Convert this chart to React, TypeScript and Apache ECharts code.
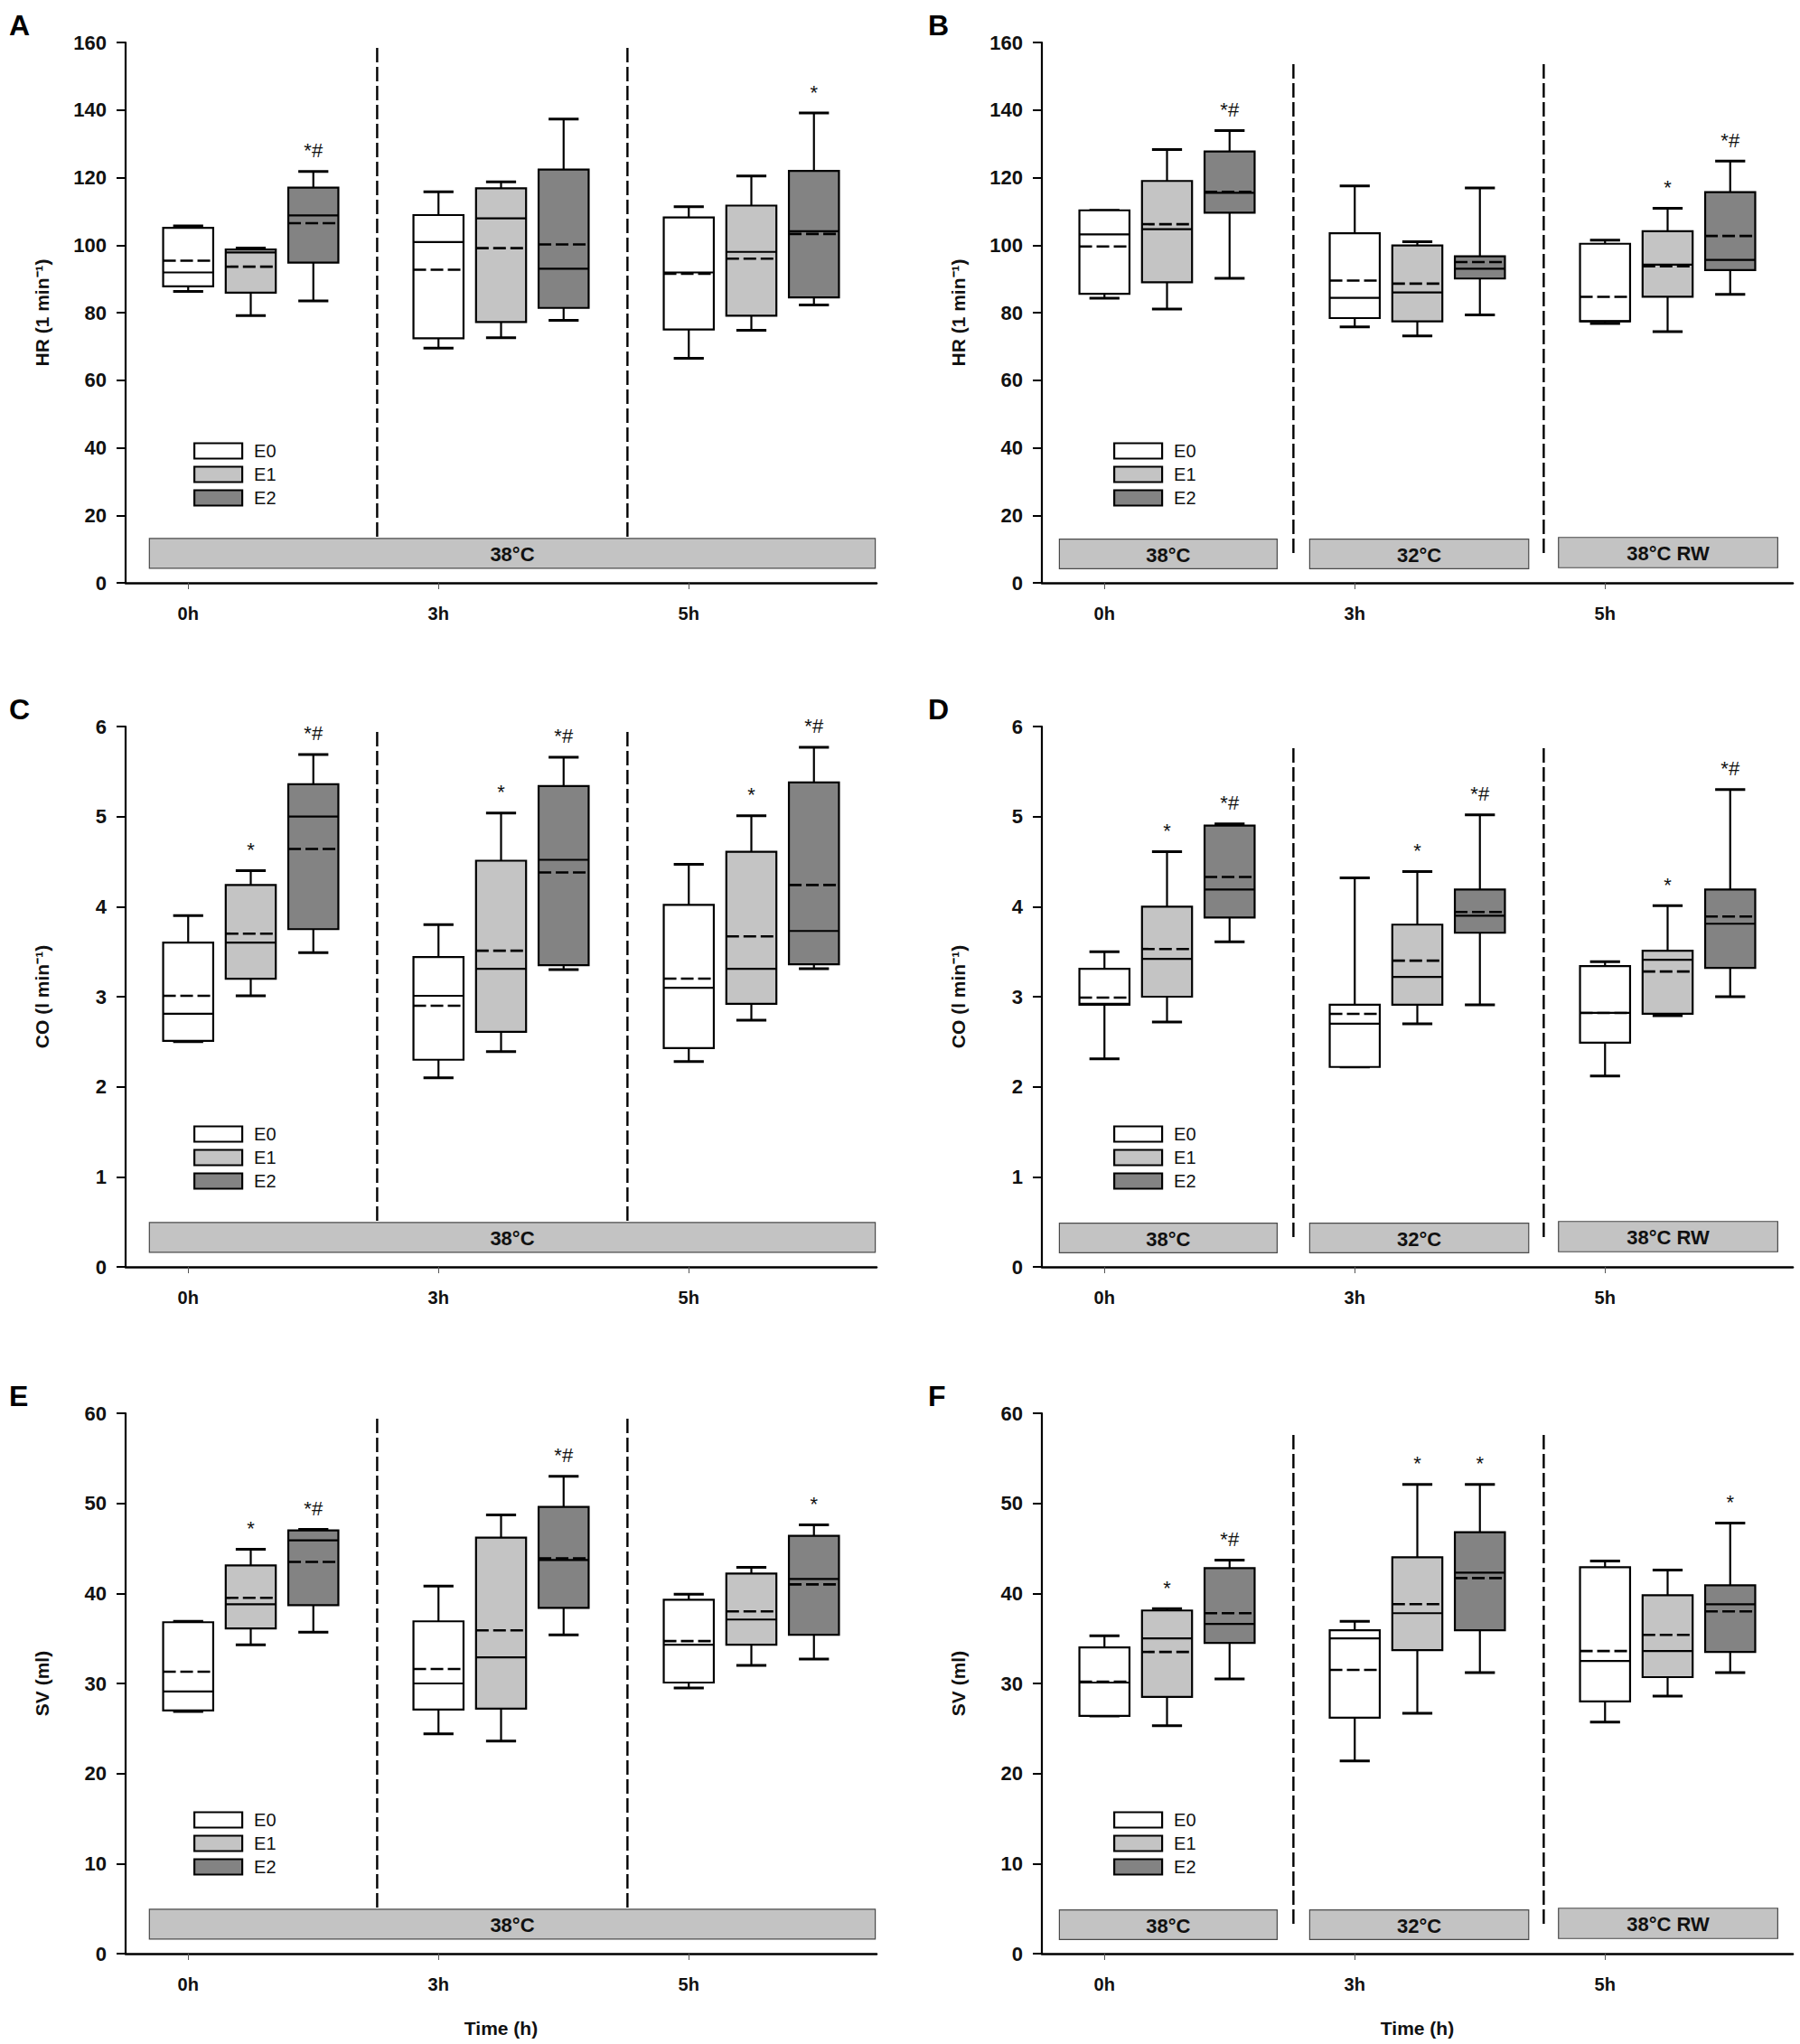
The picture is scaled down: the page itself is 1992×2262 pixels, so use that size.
import React, { useEffect, useRef } from "react";
import * as echarts from "echarts";

const FONT = '"Liberation Sans", Arial, Helvetica, sans-serif';

// ---- categories ----
const timeLabels = ["0h", "3h", "5h"];
const groupNames = ["E0", "E1", "E2"];
const tempsConstant = ["38°C"];
const tempsVaried = ["38°C", "32°C", "38°C RW"];

// ---- box values: [whiskerLow, q1, median, q3, whiskerHigh, mean] per time point ----
// Panel A: HR, constant 38°C
const A_E0 = [[86.3, 87.8, 91.9, 105.1, 105.7, 95.4], [69.5, 72.4, 100.9, 108.9, 115.8, 92.7], [66.5, 75.0, 91.9, 108.2, 111.4, 91.5]];
const A_E1 = [[79.1, 85.9, 97.8, 98.7, 99.1, 93.6], [72.6, 77.2, 107.9, 116.8, 118.7, 99.1], [74.8, 79.1, 98.0, 111.7, 120.5, 96.0]];
const A_E2 = [[83.5, 94.8, 108.8, 117.0, 121.8, 106.5], [77.7, 81.4, 93.0, 122.4, 137.3, 100.2], [82.3, 84.5, 104.1, 122.0, 139.1, 103.3]];
const A_MARKS = [["", "", ""], ["", "", ""], ["*#", "", "*"]];
// Panel B: HR, varied temperature
const B_E0 = [[84.3, 85.6, 103.2, 110.3, 110.3, 99.6], [75.8, 78.4, 84.4, 103.5, 117.5, 89.5], [76.8, 77.4, 77.5, 100.4, 101.5, 84.7]];
const B_E1 = [[81.1, 89.0, 104.7, 119.0, 128.3, 106.2], [73.1, 77.4, 86.0, 99.9, 101.0, 88.6], [74.4, 84.7, 94.2, 104.1, 110.9, 93.7]];
const B_E2 = [[90.2, 109.6, 115.5, 127.7, 133.9, 115.8], [79.3, 90.1, 93.0, 96.7, 116.9, 95.0], [85.4, 92.6, 95.6, 115.7, 124.9, 102.7]];
const B_MARKS = [["", "", ""], ["", "", "*"], ["*#", "", "*#"]];
// Panel C: CO, constant 38°C
const C_E0 = [[2.50, 2.51, 2.81, 3.60, 3.90, 3.01], [2.10, 2.30, 3.01, 3.44, 3.80, 2.90], [2.28, 2.43, 3.10, 4.02, 4.47, 3.20]];
const C_E1 = [[3.01, 3.20, 3.60, 4.24, 4.40, 3.70], [2.39, 2.61, 3.31, 4.51, 5.04, 3.51], [2.74, 2.92, 3.31, 4.61, 5.01, 3.67]];
const C_E2 = [[3.49, 3.75, 5.00, 5.36, 5.69, 4.64], [3.30, 3.35, 4.52, 5.34, 5.66, 4.38], [3.31, 3.36, 3.73, 5.38, 5.77, 4.24]];
const C_MARKS = [["", "", ""], ["*", "*", "*"], ["*#", "*#", "*#"]];
// Panel D: CO, varied temperature
const D_E0 = [[2.31, 2.91, 2.92, 3.31, 3.50, 2.99], [2.22, 2.22, 2.70, 2.91, 4.32, 2.81], [2.12, 2.49, 2.82, 3.34, 3.39, 2.82]];
const D_E1 = [[2.72, 3.00, 3.42, 4.00, 4.61, 3.53], [2.70, 2.91, 3.22, 3.80, 4.39, 3.40], [2.79, 2.81, 3.41, 3.51, 4.01, 3.28]];
const D_E2 = [[3.61, 3.88, 4.19, 4.90, 4.92, 4.33], [2.91, 3.71, 3.90, 4.19, 5.02, 3.94], [3.00, 3.32, 3.81, 4.19, 5.30, 3.89]];
const D_MARKS = [["", "", ""], ["*", "*", "*"], ["*#", "*#", "*#"]];
// Panel E: SV, constant 38°C
const E_E0 = [[26.9, 27.0, 29.1, 36.8, 36.9, 31.3], [24.4, 27.1, 30.0, 36.9, 40.8, 31.6], [29.5, 30.1, 34.3, 39.3, 39.9, 34.7]];
const E_E1 = [[34.3, 36.1, 38.8, 43.1, 44.9, 39.5], [23.6, 27.2, 32.9, 46.2, 48.7, 35.9], [32.0, 34.3, 37.1, 42.2, 42.9, 38.0]];
const E_E2 = [[35.7, 38.7, 45.9, 47.0, 47.1, 43.5], [35.4, 38.4, 43.7, 49.6, 53.0, 43.9], [32.7, 35.4, 41.6, 46.4, 47.6, 41.0]];
const E_MARKS = [["", "", ""], ["*", "", ""], ["*#", "*#", "*"]];
// Panel F: SV, varied temperature
const F_E0 = [[26.4, 26.4, 30.1, 34.0, 35.3, 30.2], [21.4, 26.2, 35.0, 35.9, 36.9, 31.5], [25.7, 28.0, 32.5, 42.9, 43.6, 33.6]];
const F_E1 = [[25.3, 28.5, 35.0, 38.1, 38.3, 33.5], [26.7, 33.7, 37.8, 44.0, 52.1, 38.8], [28.6, 30.7, 33.6, 39.8, 42.6, 35.4]];
const F_E2 = [[30.5, 34.5, 36.6, 42.8, 43.7, 37.8], [31.2, 35.9, 42.3, 46.8, 52.1, 41.7], [31.2, 33.5, 38.8, 40.9, 47.8, 38.0]];
const F_MARKS = [["", "", ""], ["*", "*", ""], ["*#", "*", "*"]];

// ---- axis names ----
const HR_NAME = "HR (1 min\u207B\u00B9)";
const CO_NAME = "CO (l min\u207B\u00B9)";
const SV_NAME = "SV (ml)";

// ---- styling / layout constants ----
const FILL = ["#ffffff", "#c4c4c4", "#838383"];
const GROUP_OFFSET = 0.25;
const BOX_W = 0.2;
const GRID_LEFT = [139, 1153];
const GRID_TOP = [47, 804, 1564];
const GRID_W = 831;
const GRID_H = 598;
const LEGEND_LEFT = [214, 1232];
const LEGEND_TOP = [489, 1245, 2004];
const SEP_X = [0.755, 1.755];
const SINGLE_BAND_X = [[-0.155, 2.745]];
const TRIPLE_BAND_X = [[-0.18, 0.69], [0.82, 1.695], [1.814, 2.69]];
const TRIPLE_BAND_Y = [[0.026, 0.081], [0.026, 0.081], [0.028, 0.084]];

const panels = [
  { letter: "A", col: 0, row: 0, yName: HR_NAME, max: 160, step: 20, groups: [A_E0, A_E1, A_E2], marks: A_MARKS, temps: tempsConstant },
  { letter: "B", col: 1, row: 0, yName: HR_NAME, max: 160, step: 20, groups: [B_E0, B_E1, B_E2], marks: B_MARKS, temps: tempsVaried },
  { letter: "C", col: 0, row: 1, yName: CO_NAME, max: 6, step: 1, groups: [C_E0, C_E1, C_E2], marks: C_MARKS, temps: tempsConstant },
  { letter: "D", col: 1, row: 1, yName: CO_NAME, max: 6, step: 1, groups: [D_E0, D_E1, D_E2], marks: D_MARKS, temps: tempsVaried },
  { letter: "E", col: 0, row: 2, yName: SV_NAME, max: 60, step: 10, groups: [E_E0, E_E1, E_E2], marks: E_MARKS, temps: tempsConstant },
  { letter: "F", col: 1, row: 2, yName: SV_NAME, max: 60, step: 10, groups: [F_E0, F_E1, F_E2], marks: F_MARKS, temps: tempsVaried },
];

function boxSeries(pi: number, g: number, rows: number[][], marks: string[]) {
  return {
    type: "custom",
    name: groupNames[g],
    xAxisIndex: pi,
    yAxisIndex: pi,
    itemStyle: { color: FILL[g], borderColor: "#000", borderWidth: 2 },
    data: rows.map((r, t) => [t + g * GROUP_OFFSET, r[0], r[1], r[2], r[3], r[4], r[5]]),
    encode: { x: 0, y: [1, 2, 3, 4, 5, 6] },
    renderItem: (params: any, api: any) => {
      const x = api.value(0);
      const lo = api.value(1), q1 = api.value(2), med = api.value(3), q3 = api.value(4), hi = api.value(5), mean = api.value(6);
      const cx = api.coord([x, lo])[0];
      const Y = (v: number) => api.coord([x, v])[1];
      const hw = api.size([BOX_W, 0])[0] / 2;
      const cw = hw * 0.6;
      const ln = (x1: number, y1: number, x2: number, y2: number, extra: any = {}) => ({
        type: "line",
        shape: { x1, y1, x2, y2 },
        style: { stroke: "#000", lineWidth: 2.2, ...extra },
      });
      const children: any[] = [];
      if (hi > q3) { children.push(ln(cx, Y(hi), cx, Y(q3))); }
      children.push(ln(cx - cw, Y(hi), cx + cw, Y(hi), { lineWidth: 3 }));
      if (lo < q1) { children.push(ln(cx, Y(q1), cx, Y(lo))); }
      children.push(ln(cx - cw, Y(lo), cx + cw, Y(lo), { lineWidth: 3 }));
      children.push({
        type: "rect",
        shape: { x: cx - hw, y: Y(q3), width: 2 * hw, height: Y(q1) - Y(q3) },
        style: { fill: FILL[g], stroke: "#000", lineWidth: 2.2 },
      });
      children.push(ln(cx - hw, Y(med), cx + hw, Y(med)));
      children.push(ln(cx - hw, Y(mean), cx + hw, Y(mean), { lineDash: [14, 5], lineWidth: 2.6 }));
      const m = marks[params.dataIndex];
      if (m) {
        children.push({
          type: "text",
          style: {
            text: m, x: cx, y: Y(hi) - 12,
            textAlign: "center", textVerticalAlign: "bottom", align: "center", verticalAlign: "bottom",
            fill: "#111", font: `22px ${FONT}`,
          },
        });
      }
      return { type: "group", children };
    },
  };
}

function bandSeries(pi: number, p: any) {
  const single = p.temps.length === 1;
  const xs = single ? SINGLE_BAND_X : TRIPLE_BAND_X;
  const ys = single ? [[0.027, 0.082]] : TRIPLE_BAND_Y;
  return {
    type: "custom",
    xAxisIndex: pi,
    yAxisIndex: pi,
    silent: true,
    data: p.temps.map((_: string, k: number) => [xs[k][0], xs[k][1], ys[k][0] * p.max, ys[k][1] * p.max]),
    encode: { x: [0, 1], y: [2, 3] },
    renderItem: (params: any, api: any) => {
      const a = api.coord([api.value(0), api.value(3)]);
      const b = api.coord([api.value(1), api.value(2)]);
      return {
        type: "group",
        children: [
          { type: "rect", shape: { x: a[0], y: a[1], width: b[0] - a[0], height: b[1] - a[1] }, style: { fill: "#c3c3c3", stroke: "#4a4a4a", lineWidth: 1.2 } },
          {
            type: "text",
            style: {
              text: p.temps[params.dataIndex], x: (a[0] + b[0]) / 2, y: (a[1] + b[1]) / 2 + 1,
              textAlign: "center", textVerticalAlign: "middle", align: "center", verticalAlign: "middle",
              fill: "#111", font: `bold 22px ${FONT}`,
            },
          },
        ],
      };
    },
  };
}

function sepSeries(pi: number, p: any) {
  const single = p.temps.length === 1;
  const lo = (single ? 0.082 : 0.048) * p.max;
  const hi = (single ? 0.99 : 0.96) * p.max;
  return {
    type: "custom",
    xAxisIndex: pi,
    yAxisIndex: pi,
    silent: true,
    data: SEP_X.map((x) => [x, lo, hi]),
    encode: { x: 0, y: [1, 2] },
    renderItem: (params: any, api: any) => {
      const a = api.coord([api.value(0), api.value(2)]);
      const b = api.coord([api.value(0), api.value(1)]);
      return { type: "line", shape: { x1: a[0], y1: a[1], x2: b[0], y2: b[1] }, style: { stroke: "#000", lineWidth: 2.4, lineDash: [16, 5] } };
    },
  };
}

function buildOption() {
  const grid: any[] = [], xAxis: any[] = [], yAxis: any[] = [], series: any[] = [], legend: any[] = [], graphic: any[] = [];
  panels.forEach((p, pi) => {
    grid.push({ left: GRID_LEFT[p.col], top: GRID_TOP[p.row], width: GRID_W, height: GRID_H, containLabel: false });
    xAxis.push({
      type: "value", gridIndex: pi, min: -0.25, max: 2.75,
      name: p.row === 2 ? "Time (h)" : "",
      nameLocation: "middle", nameGap: 72,
      nameTextStyle: { fontFamily: FONT, fontWeight: "bold", fontSize: 21, color: "#111" },
      axisLine: { onZero: false, lineStyle: { color: "#000", width: 2.5 } },
      axisTick: { show: true, customValues: [0, 1, 2], length: 7, lineStyle: { color: "#555", width: 1 } },
      axisLabel: {
        customValues: [0, 1, 2],
        formatter: (v: number) => timeLabels[Math.round(v)] ?? "",
        fontFamily: FONT, fontWeight: "bold", fontSize: 20, color: "#111", margin: 24,
      },
      splitLine: { show: false },
    });
    yAxis.push({
      type: "value", gridIndex: pi, min: 0, max: p.max, interval: p.step,
      name: p.yName, nameLocation: "middle", nameGap: 82,
      nameTextStyle: { fontFamily: FONT, fontWeight: "bold", fontSize: 21, color: "#111" },
      axisLine: { show: true, onZero: false, lineStyle: { color: "#000", width: 2.2 } },
      axisTick: { show: true, length: 10, lineStyle: { color: "#000", width: 2 } },
      axisLabel: { fontFamily: FONT, fontWeight: "bold", fontSize: 22, color: "#111", margin: 21 },
      splitLine: { show: false },
    });
    series.push(bandSeries(pi, p));
    series.push(sepSeries(pi, p));
    p.groups.forEach((rows, g) => series.push(boxSeries(pi, g, rows, p.marks[g])));
    legend.push({
      orient: "vertical",
      left: LEGEND_LEFT[p.col],
      top: LEGEND_TOP[p.row],
      itemWidth: 53,
      itemHeight: 17,
      itemGap: 6,
      selectedMode: false,
      padding: 0,
      textStyle: { fontFamily: FONT, fontSize: 20, color: "#111", lineHeight: 19, padding: [0, 0, 0, 8] },
      data: groupNames.map((name, k) => ({
        name, icon: "rect",
        itemStyle: { color: FILL[k], borderColor: "#000", borderWidth: 2.2 },
      })),
    });
    graphic.push({
      type: "text",
      x: p.col === 0 ? 10 : 1027,
      y: GRID_TOP[p.row] - 19,
      style: {
        text: p.letter, font: `bold 32px ${FONT}`, fill: "#000",
        textVerticalAlign: "middle", verticalAlign: "middle",
      },
    });
  });
  return { animation: false, backgroundColor: "#fff", grid, xAxis, yAxis, series, legend, graphic };
}

export default function App() {
  const ref = useRef<HTMLDivElement>(null);
  useEffect(() => {
    document.body.style.margin = "0";
    if (!ref.current) return;
    const chart = echarts.init(ref.current, undefined, { renderer: "svg" });
    chart.setOption(buildOption() as any);
    return () => chart.dispose();
  }, []);
  return <div ref={ref} style={{ width: 1992, height: 2262, background: "#fff" }} />;
}
